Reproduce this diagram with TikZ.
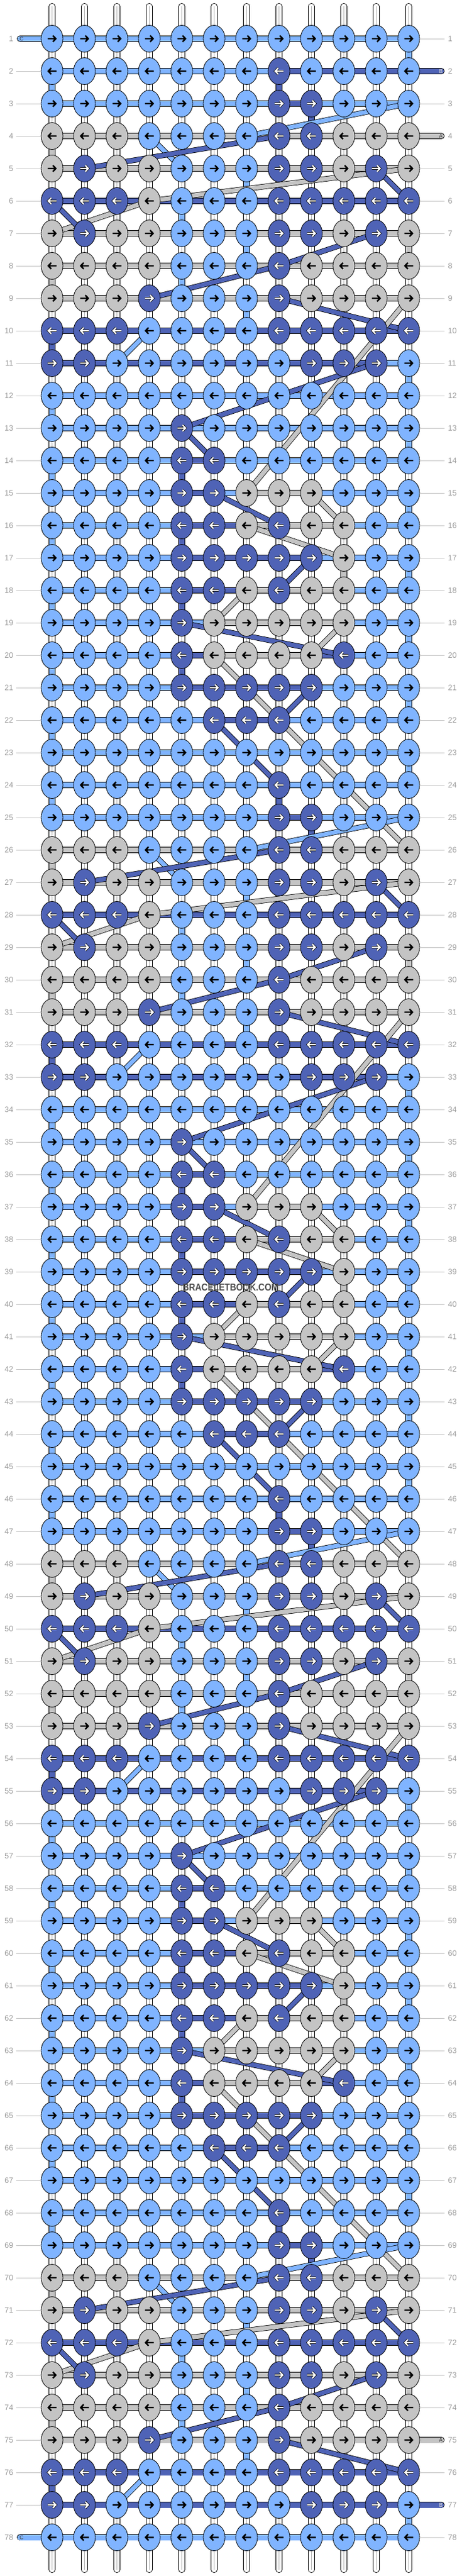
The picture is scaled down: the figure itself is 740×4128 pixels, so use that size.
\documentclass[tikz,border=0pt]{standalone}
\usepackage{fontspec}
\setmainfont{Liberation Sans}
\usepackage{xcolor}
\usepackage{tikz}
\usetikzlibrary{shapes.geometric}

\definecolor{cL}{HTML}{80B4FF}
\definecolor{cD}{HTML}{4F63B6}
\definecolor{cG}{HTML}{C4C4C4}
\definecolor{cW}{HTML}{FFFFFF}
\definecolor{rowgray}{HTML}{9A9A9A}
\definecolor{tickgray}{HTML}{C4C4C4}

\pgfdeclarelayer{paper}
\pgfdeclarelayer{strings}
\pgfdeclarelayer{bands}
\pgfsetlayers{paper,strings,bands,main}

\begin{document}
\begin{tikzpicture}[x=1pt, y=-1pt,
    knot/.style={ellipse, draw=black, line width=0.8pt, minimum width=35pt, minimum height=43pt, inner sep=0pt},
    kL/.style={knot, fill=cL}, kD/.style={knot, fill=cD}, kG/.style={knot, fill=cG},
    arwL/.style={draw=black, line width=2.4pt, line join=miter},
    arwG/.style={arwL},
    arwD/.style={draw=white, line width=2.2pt, line join=miter, preaction={draw=black, line width=3.7pt}},
    thread/.style={line width=0.9pt, double=#1, double distance=8.9pt},
    midline/.style={draw=black!30, line width=0.8pt},
    band/.style={line width=0.8pt, double=#1, double distance=7pt},
    rownum/.style={text=rowgray, font=\fontsize{12.5}{14}\selectfont, inner sep=0pt},
    tick/.style={draw=tickgray, line width=1pt},
    tag/.style={font=\fontsize{9}{10}\selectfont, inner sep=0pt},
  ]

        \useasboundingbox (0,0) rectangle (740,4128);
        \begin{pgfonlayer}{paper}
            \fill[white] (0,0) rectangle (740,4128);
        \end{pgfonlayer}

        % Define knot rows (one period of 22 rows)

        \newcommand{\knotrow}[3]{
            \expandafter\def\csname kn#1\endcsname{#2}
            \expandafter\def\csname ln#1\endcsname{#3}
        }

        \newcommand{\droprow}[2]{
            \expandafter\def\csname dr#1\endcsname{#2}
        }

        \knotrow{2}{L,L,L,L,L,L,L,D,L,L,L,L}{L,L,L,L,L,L,L,L,L,L,L}
        \knotrow{3}{L,L,L,L,L,L,L,D,D,L,L,L}{L,L,L,L,L,L,L,D,L,L,L}
        \knotrow{4}{G,G,G,L,L,L,L,D,D,G,G,G}{G,G,G,G,G,G,G,G,G,G,G}
        \knotrow{5}{G,D,G,G,L,L,L,D,D,G,D,G}{G,G,G,G,G,G,G,G,G,G,G}
        \knotrow{6}{D,D,D,G,L,L,L,D,D,D,D,D}{D,D,D,D,D,D,D,D,D,D,D}
        \knotrow{7}{G,D,G,G,L,L,L,D,D,G,D,G}{G,G,G,G,G,G,G,G,G,G,G}
        \knotrow{8}{G,G,G,G,L,L,L,D,G,G,G,G}{G,G,G,G,G,G,G,G,G,G,G}
        \knotrow{9}{G,G,G,D,L,L,L,D,G,G,G,G}{G,G,G,G,G,G,G,G,G,G,G}
        \knotrow{10}{D,D,D,L,L,L,L,D,D,D,D,D}{D,D,D,D,D,D,D,D,D,D,D}
        \knotrow{11}{D,D,L,L,L,L,L,L,D,D,D,L}{D,D,D,D,D,D,D,D,D,D,L}
        \knotrow{12}{L,L,L,L,L,L,L,L,L,L,L,L}{L,L,L,L,L,L,L,L,L,L,L}
        \knotrow{13}{L,L,L,L,D,L,L,L,L,L,L,L}{L,L,L,L,L,L,L,L,L,L,L}
        \knotrow{14}{L,L,L,L,D,D,L,L,L,L,L,L}{L,L,L,L,D,L,L,L,L,L,L}
        \knotrow{15}{L,L,L,L,D,D,G,G,G,L,L,L}{L,L,L,L,D,L,G,G,L,L,L}
        \knotrow{16}{L,L,L,L,D,D,G,D,G,G,L,L}{L,L,L,L,D,D,G,G,G,L,L}
        \knotrow{17}{L,L,L,L,D,D,D,D,D,G,L,L}{L,L,L,L,D,D,D,D,L,L,L}
        \knotrow{18}{L,L,L,L,D,D,G,D,G,G,L,L}{L,L,L,L,D,D,G,G,G,L,L}
        \knotrow{19}{L,L,L,L,D,G,G,G,G,G,L,L}{L,L,L,L,L,G,G,G,G,L,L}
        \knotrow{20}{L,L,L,L,D,G,G,G,G,D,L,L}{L,L,L,L,D,G,G,G,D,L,L}
        \knotrow{21}{L,L,L,L,D,D,D,D,D,L,L,L}{L,L,L,L,D,D,D,D,L,L,L}
        \knotrow{22}{L,L,L,L,L,D,D,D,L,L,L,L}{L,L,L,L,L,D,D,L,L,L,L}
        \knotrow{23}{L,L,L,L,L,L,L,L,L,L,L,L}{L,L,L,L,L,L,L,L,L,L,L}

        % string B comes in on row 2 and leaves on row 77
        \expandafter\def\csname lnx2\endcsname{L,L,L,L,L,L,L,D,D,D,D}
        \expandafter\def\csname lnx77\endcsname{D,D,D,D,D,D,D,D,D,D,D}

        \droprow{2}{1/L,8/D}
        \droprow{3}{9/D}
        \droprow{4}{1/G}
        \droprow{5}{7/L}
        \droprow{6}{5/L}
        \droprow{7}{7/L,12/G}
        \droprow{8}{1/G,5/L}
        \droprow{9}{7/L}
        \droprow{10}{1/D}
        \droprow{11}{12/L}
        \droprow{12}{1/L}
        \droprow{13}{12/L}
        \droprow{14}{1/L,5/D}
        \droprow{15}{12/L}
        \droprow{16}{1/L,5/D}
        \droprow{17}{10/G,12/L}
        \droprow{18}{1/L,5/D}
        \droprow{19}{12/L}
        \droprow{20}{1/L,5/D}
        \droprow{21}{12/L}
        \droprow{22}{1/L}
        \droprow{23}{12/L}

        % Knots
        \foreach \rw in {1,...,78}{
            \pgfmathtruncatemacro{\pp}{\rw==1 ? 23 : mod(\rw-2,22)+2}
            \pgfmathsetmacro{\yy}{62+52*(\rw-1)}
            \pgfmathtruncatemacro{\sg}{mod(\rw,2)==1 ? 1 : -1}
            \edef\kl{\csname kn\pp\endcsname}
            \foreach \kc [count=\cl] in \kl {
                \pgfmathsetmacro{\xx}{83.5+52*(\cl-1)}
                \pgfmathsetmacro{\xa}{\xx-7*(\sg)}
                \pgfmathsetmacro{\xb}{\xx+6*(\sg)}
                \pgfmathsetmacro{\xc}{\xx+1.3*(\sg)}
                \node[k\kc] (k-\rw-\cl) at (\xx,\yy) {};
                \draw[arw\kc] (\xa,\yy) -- (\xb,\yy)
                    (\xc,{\yy-5}) -- (\xb,\yy) -- (\xc,{\yy+5});
            }
            \node[rownum, anchor=east] (nl-\rw) at (21.5,\yy) {\rw};
            \node[rownum, anchor=west] (nr-\rw) at (718.5,\yy) {\rw};
        }

        % Row ticks
        \foreach \rw in {2,...,77}
            \draw[tick] ([xshift=4.5pt]nl-\rw.east) -- (k-\rw-1.west);
        \foreach \rw in {1,3,5,6,...,74,76,78}
            \draw[tick] (k-\rw-12.east) -- ([xshift=-5.5pt]nr-\rw.west);

        \begin{pgfonlayer}{strings}
            % top and bottom ends
            \foreach \cl in {1,...,12}{
                \pgfmathsetmacro{\xx}{83.5+52*(\cl-1)}
                \coordinate (top-\cl) at (\xx,10.35);
                \coordinate (bot-\cl) at (\xx,4117.65);
                \draw[thread=cW, line cap=round] (top-\cl) -- (k-1-\cl.center);
                \draw[thread=cW, line cap=round] (bot-\cl) -- (k-78-\cl.center);
                \draw[midline] (top-\cl) -- (k-1-\cl.center);
                \draw[midline] (bot-\cl) -- (k-78-\cl.center);
            }

            % white drops between rows
            \foreach \rw in {1,...,77}{
                \pgfmathtruncatemacro{\nx}{\rw+1}
                \foreach \cl in {1,...,12}{
                    \draw[thread=cW] (k-\rw-\cl.center) -- (k-\nx-\cl.center);
                    \draw[midline] (k-\rw-\cl.center) -- (k-\nx-\cl.center);
                }
            }

            % coloured drops
            \foreach \rw in {1,...,77}{
                \pgfmathtruncatemacro{\pp}{\rw==1 ? 23 : mod(\rw-2,22)+2}
                \pgfmathtruncatemacro{\nx}{\rw+1}
                \edef\dl{\csname dr\pp\endcsname}
                \foreach \cl/\vc in \dl
                    \draw[thread=c\vc] (k-\rw-\cl.center) -- (k-\nx-\cl.center);
            }

            % row threads
            \foreach \rw in {1,...,78}{
                \pgfmathtruncatemacro{\pp}{\rw==1 ? 23 : mod(\rw-2,22)+2}
                \ifcsname lnx\rw\endcsname
                    \edef\ll{\csname lnx\rw\endcsname}
                \else
                    \edef\ll{\csname ln\pp\endcsname}
                \fi
                \foreach \hc [count=\cl] in \ll {
                    \pgfmathtruncatemacro{\nx}{\cl+1}
                    \draw[thread=c\hc] (k-\rw-\cl.center) -- (k-\rw-\nx.center);
                }
            }

            % loose ends A, B, C
            \coordinate (endC1) at (32.35,62);
            \coordinate (endB1) at (707.65,114);
            \coordinate (endA1) at (707.65,218);
            \coordinate (endA2) at (707.65,3910);
            \coordinate (endB2) at (707.65,4014);
            \coordinate (endC2) at (32.35,4066);
            \draw[thread=cL, line cap=round] (k-1-1.center) -- (endC1);
            \draw[thread=cD, line cap=round] (k-2-12.center) -- (endB1);
            \draw[thread=cG, line cap=round] (k-4-12.center) -- (endA1);
            \draw[thread=cG, line cap=round] (k-75-12.center) -- (endA2);
            \draw[thread=cD, line cap=round] (k-77-12.center) -- (endB2);
            \draw[thread=cL, line cap=round] (k-78-1.center) -- (endC2);
        \end{pgfonlayer}

        \node[tag, text=black!75] (tagC1) at (34.5,62) {C};
        \node[tag, text=white!85!black] (tagB1) at (707,114) {B};
        \node[tag, text=black!75] (tagA1) at (707,218) {A};
        \node[tag, text=black!75] (tagA2) at (707,3910) {A};
        \node[tag, text=white!85!black] (tagB2) at (707,4014) {B};
        \node[tag, text=black!75] (tagC2) at (34.5,4066) {C};

        % Carried threads
        \begin{pgfonlayer}{bands}
            \foreach \m in {0,...,3}{
                \foreach \ra/\ca/\rb/\cb/\bc in {3/12/4/7/L, 4/4/5/5/L, 5/2/4/8/D, 7/1/6/4/G, 6/4/5/12/G,
                        6/1/7/2/D, 5/11/6/12/D, 7/11/8/8/D, 8/8/9/4/D, 9/8/10/12/D, 9/12/15/7/G,
                        10/4/11/3/L, 11/11/13/5/D, 13/5/14/6/D, 15/6/16/8/D, 15/9/16/10/G,
                        16/7/17/10/G, 18/8/17/9/D, 18/7/19/6/G, 19/5/20/10/D, 19/10/20/9/G,
                        20/6/26/12/G, 21/9/22/8/D, 22/6/24/8/D}{
                    \pgfmathtruncatemacro{\ta}{\ra+22*\m}
                    \pgfmathtruncatemacro{\tb}{\rb+22*\m}
                    \pgfmathtruncatemacro{\ok}{max(\ta,\tb)<79}
                    \ifnum\ok=1
                        \draw[band=c\bc] (k-\ta-\ca.center) -- (k-\tb-\cb.center);
                    \fi
                }
            }
        \end{pgfonlayer}

        \node[font=\bfseries\fontsize{16}{16}\selectfont, text=black!70, xscale=0.87, transform shape] (mark) at (370,2063) {BRACELETBOOK.COM};

\end{tikzpicture}
\end{document}
